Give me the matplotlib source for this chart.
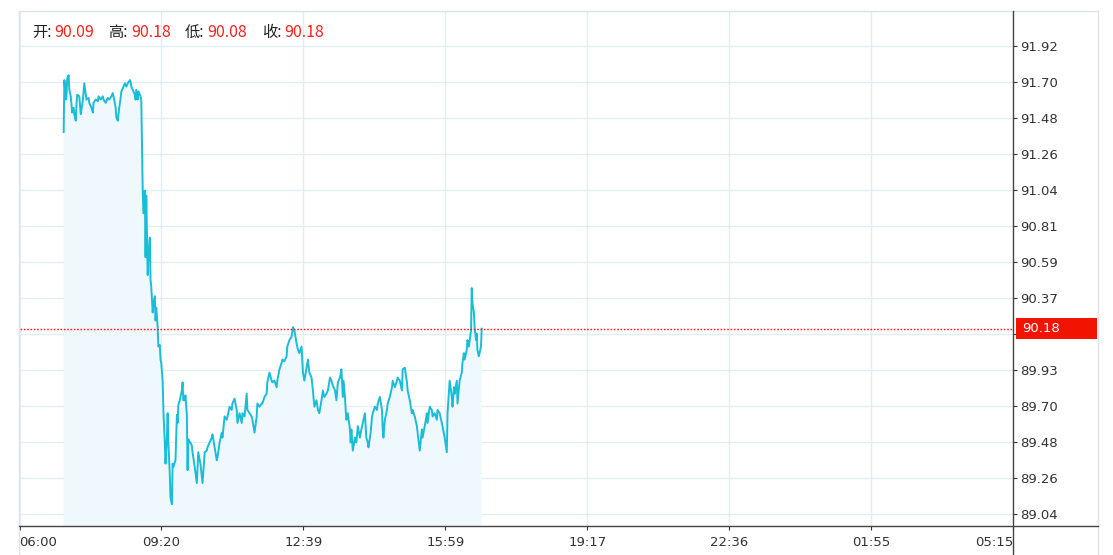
import matplotlib
matplotlib.use("Agg")
import matplotlib.pyplot as plt
from matplotlib.lines import Line2D
from matplotlib.patches import Rectangle
from matplotlib.transforms import blended_transform_factory

plt.rcParams['font.family'] = ['Noto Sans CJK SC', 'DejaVu Sans']

# minutes since 06:00 and price
minutes = [62, 63, 65, 66, 67, 69, 70, 72, 73, 74, 76, 77, 79, 80, 81, 84, 86, 87, 89, 91,
           93, 94, 97, 98, 101, 103, 104, 107, 110, 111, 114, 117, 118, 121, 124, 126, 129, 131, 133, 135,
           136, 138, 139, 140, 142, 143, 146, 148, 150, 152, 155, 156, 157, 160, 162, 163, 164, 166, 167, 169,
           170, 171, 173, 174, 176, 177, 178, 180, 181, 183, 184, 185, 187, 188, 190, 191, 192, 194, 195, 197,
           198, 199, 201, 202, 204, 205, 207, 208, 209, 211, 212, 214, 215, 216, 219, 221, 222, 223, 225, 226,
           228, 229, 230, 232, 233, 235, 236, 237, 239, 240, 242, 243, 246, 249, 251, 254, 257, 260, 263, 264,
           267, 270, 271, 274, 277, 278, 281, 284, 285, 288, 291, 292, 295, 298, 299, 302, 305, 306, 309, 312,
           313, 316, 319, 320, 323, 326, 327, 330, 333, 334, 337, 340, 341, 344, 347, 348, 351, 354, 355, 358,
           361, 362, 365, 368, 369, 372, 375, 376, 379, 382, 384, 386, 389, 391, 393, 396, 398, 400, 403, 405,
           407, 410, 412, 414, 417, 419, 421, 424, 426, 428, 431, 433, 436, 438, 440, 443, 445, 447, 450, 452,
           454, 455, 457, 458, 459, 461, 464, 465, 466, 468, 471, 473, 475, 478, 480, 482, 485, 487, 489, 490,
           493, 495, 496, 499, 502, 503, 506, 509, 510, 511, 513, 516, 517, 520, 523, 524, 527, 530, 531, 534,
           537, 538, 541, 544, 545, 548, 551, 552, 555, 558, 559, 562, 565, 566, 569, 572, 573, 576, 579, 580,
           583, 586, 587, 590, 593, 594, 597, 600, 601, 604, 607, 608, 610, 611, 614, 615, 618, 621, 622, 624,
           625, 628, 629, 631, 634, 635, 636, 638, 639, 641, 642, 643, 645, 648, 649]
prices = [91.39, 91.71, 91.59, 91.62, 91.72, 91.74, 91.65, 91.61, 91.56, 91.51, 91.54, 91.50, 91.46, 91.56, 91.62, 91.61, 91.50, 91.53, 91.59, 91.69,
          91.62, 91.59, 91.60, 91.57, 91.54, 91.51, 91.57, 91.59, 91.58, 91.61, 91.59, 91.61, 91.59, 91.57, 91.60, 91.59, 91.61, 91.63, 91.59, 91.54,
          91.48, 91.46, 91.50, 91.54, 91.60, 91.64, 91.67, 91.69, 91.67, 91.69, 91.71, 91.70, 91.67, 91.64, 91.62, 91.59, 91.65, 91.59, 91.64, 91.62,
          91.61, 91.59, 91.03, 90.89, 91.03, 90.62, 91.00, 90.51, 90.63, 90.74, 90.48, 90.44, 90.28, 90.33, 90.38, 90.23, 90.31, 90.19, 90.07, 90.08,
          89.99, 89.97, 89.86, 89.68, 89.48, 89.35, 89.51, 89.66, 89.48, 89.29, 89.14, 89.10, 89.35, 89.33, 89.37, 89.65, 89.60, 89.71, 89.74, 89.76,
          89.80, 89.85, 89.74, 89.74, 89.77, 89.65, 89.31, 89.50, 89.48, 89.48, 89.46, 89.42, 89.33, 89.23, 89.42, 89.35, 89.23, 89.42, 89.43, 89.45,
          89.48, 89.51, 89.53, 89.45, 89.37, 89.39, 89.48, 89.54, 89.51, 89.64, 89.62, 89.64, 89.70, 89.68, 89.72, 89.75, 89.68, 89.60, 89.66, 89.60,
          89.66, 89.64, 89.78, 89.68, 89.66, 89.64, 89.62, 89.54, 89.64, 89.72, 89.70, 89.72, 89.72, 89.76, 89.78, 89.85, 89.91, 89.86, 89.85, 89.86,
          89.82, 89.86, 89.93, 89.97, 89.99, 89.98, 90.01, 90.07, 90.11, 90.13, 90.19, 90.17, 90.09, 90.05, 90.03, 90.07, 89.91, 89.86, 89.94, 89.99,
          89.91, 89.88, 89.80, 89.70, 89.74, 89.68, 89.66, 89.74, 89.80, 89.76, 89.78, 89.80, 89.88, 89.86, 89.83, 89.80, 89.74, 89.85, 89.88, 89.93,
          89.76, 89.86, 89.76, 89.68, 89.62, 89.66, 89.56, 89.48, 89.56, 89.43, 89.51, 89.48, 89.58, 89.51, 89.56, 89.60, 89.66, 89.51, 89.48, 89.45,
          89.54, 89.64, 89.66, 89.70, 89.68, 89.72, 89.76, 89.68, 89.56, 89.51, 89.62, 89.68, 89.72, 89.76, 89.82, 89.86, 89.82, 89.86, 89.88, 89.86,
          89.80, 89.93, 89.94, 89.85, 89.80, 89.74, 89.66, 89.68, 89.64, 89.58, 89.54, 89.43, 89.56, 89.51, 89.58, 89.66, 89.60, 89.70, 89.68, 89.64,
          89.66, 89.62, 89.68, 89.66, 89.60, 89.58, 89.51, 89.42, 89.66, 89.86, 89.76, 89.70, 89.82, 89.78, 89.86, 89.72, 89.86, 89.91, 89.97, 90.03,
          89.99, 90.05, 90.11, 90.07, 90.17, 90.43, 90.34, 90.28, 90.19, 90.11, 90.15, 90.05, 90.01, 90.07, 90.18]

ohlc_names = ['开:', '高:', '低:', '收:']
ohlc_values = ['90.09', '90.18', '90.08', '90.18']
last_price = 90.18

y_ticks = [89.04 + k * 2.88 / 13 for k in range(14)]
y_labels = ['89.04', '89.26', '89.48', '89.70', '89.93', '', '90.37', '90.59',
            '90.81', '91.04', '91.26', '91.48', '91.70', '91.92']
x_ticks = [k * 1395 / 7 for k in range(8)]
x_labels = ['06:00', '09:20', '12:39', '15:59', '19:17', '22:36', '01:55', '05:15']

W, H = 1113, 555
line_c = '#1ABDD7'
fill_c = '#EFF8FC'
grid_c = '#E3EDF4'
frame_c = '#DDE3E8'
red = '#F5221E'
box_red = '#F21400'
text_c = '#333333'

fig = plt.figure(figsize=(W / 100, H / 100), dpi=100)
ax = fig.add_axes([19.5 / W, (H - 526) / H, (1013 - 19.5) / W, (526 - 11) / H])

ax.fill_between(minutes, prices, 88.0, color=fill_c, lw=0, zorder=1)
ax.plot(minutes, prices, color=line_c, lw=1.4, zorder=3)
ax.axhline(last_price, color='#FF1A1A', lw=1.0, ls=(0, (1.2, 1.2)), zorder=4)

ax.set_xlim(0, 1395)
ax.set_ylim(88.966, 92.135)

ax.set_yticks(y_ticks)
ax.set_yticklabels(y_labels)
ax.yaxis.tick_right()
ax.set_xticks(x_ticks)
ax.set_xticklabels(x_labels)
ax.tick_params(axis='both', direction='out', length=3, width=0.8, color=text_c,
               labelcolor=text_c, labelsize=9.5, labelfontfamily='DejaVu Sans')
ax.tick_params(axis='y', pad=2)
ax.tick_params(axis='x', pad=4)
xl = ax.get_xticklabels()
xl[0].set_ha('left')
xl[-1].set_ha('right')

ax.grid(True, color=grid_c, lw=1.0, zorder=0)
ax.set_axisbelow(True)
for s in ['top', 'left', 'right', 'bottom']:
    ax.spines[s].set_visible(False)

# last price tag on the right axis
tr = blended_transform_factory(ax.transAxes, ax.transData)
ax.add_patch(Rectangle((1.003, last_price - 0.0646), 0.0815, 0.129, transform=tr,
                       facecolor=box_red, edgecolor='none', clip_on=False, zorder=6))
ax.text(1.0095, last_price, '90.18', transform=tr, color='white', fontsize=9.5,
        family=['DejaVu Sans'], ha='left', va='center', zorder=7)

# outer frame and axis lines
def fline(x0, y0, x1, y1, c, lw):
    fig.add_artist(Line2D([x0 / W, x1 / W], [1 - y0 / H, 1 - y1 / H], color=c, lw=lw,
                          transform=fig.transFigure))

fline(19, 11, 1098, 11, frame_c, 1.0)
fline(19, 11, 19, 555, frame_c, 1.0)
fline(1098, 11, 1098, 555, frame_c, 1.0)
fline(19, 526, 1098, 526, '#444444', 1.0)
fline(1013, 11, 1013, 555, '#444444', 1.0)

# OHLC header
name_x = [32, 108, 185, 262]
val_x = [54, 131, 207, 284]
for nx, vx, n, v in zip(name_x, val_x, ohlc_names, ohlc_values):
    fig.text(nx / W, 1 - 32.5 / H, n, color='#222222', fontsize=11, va='center', ha='left')
    fig.text(vx / W, 1 - 32.5 / H, v, color=red, fontsize=11.5, va='center', ha='left')

fig.savefig('out.png', dpi=100, facecolor='white')
